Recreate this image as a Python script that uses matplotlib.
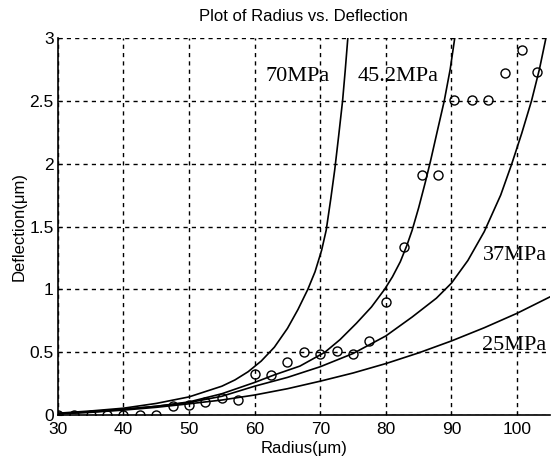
import numpy as np
import matplotlib
matplotlib.use("Agg")
import matplotlib.pyplot as plt

# measured points (radius in um, deflection in um)
meas_r = [30, 32.5, 35, 37.5, 40, 42.5, 45, 47.5, 50, 52.5, 55, 57.5, 60, 62.5, 65,
          67.5, 70, 72.5, 75, 77.5, 80, 82.7, 85.5, 87.9, 90.4, 93.1, 95.6, 98.2, 100.7, 103.1]
meas_d = [0, 0, 0, 0, 0, 0, 0, 0.07, 0.08, 0.105, 0.14, 0.12, 0.33, 0.32, 0.42,
          0.50, 0.49, 0.51, 0.49, 0.59, 0.90, 1.34, 1.91, 1.91, 2.51, 2.51, 2.51, 2.72, 2.90, 2.73]

# model curves
r70 = [30, 35, 40, 45, 50, 55, 57, 59, 61, 63, 65, 66.6, 68.1, 69.2, 70.2, 70.9, 71.6, 72.2,
       72.8, 73.4, 73.8, 74.2]
d70 = [0.015, 0.033, 0.055, 0.093, 0.145, 0.23, 0.28, 0.345, 0.43, 0.54, 0.69, 0.84, 1.0, 1.14,
       1.31, 1.47, 1.72, 1.95, 2.22, 2.5, 2.74, 3.0]

r45 = [30, 35, 40, 45, 50, 55, 60, 63, 66.9, 70.7, 73, 75.5, 77.8, 79.8, 81, 82.2, 83.2, 84.0,
       85, 86, 86.8, 87.8, 88.9, 89.8, 90.5]
d45 = [0.012, 0.025, 0.045, 0.07, 0.105, 0.17, 0.26, 0.32, 0.39, 0.5, 0.6, 0.73, 0.86, 1.0, 1.1,
       1.22, 1.35, 1.47, 1.65, 1.85, 2.02, 2.25, 2.5, 2.75, 3.0]

r37 = [30, 35, 40, 45, 50, 55, 60, 65, 70, 75, 80, 84, 87.7, 90, 92.5, 95, 97.5, 99.2, 100.7,
       102.2, 103.4, 104.4]
d37 = [0.012, 0.028, 0.047, 0.07, 0.1, 0.15, 0.23, 0.3, 0.385, 0.49, 0.63, 0.78, 0.93, 1.05,
       1.23, 1.46, 1.75, 2.0, 2.24, 2.5, 2.75, 3.0]

r25 = [30, 35, 40, 45, 50, 55, 60, 65, 70, 75, 80, 85, 90, 95, 100, 105]
d25 = [0.01, 0.022, 0.04, 0.062, 0.09, 0.12, 0.16, 0.21, 0.27, 0.335, 0.41, 0.495, 0.59, 0.695, 0.81, 0.94]

labels = ["70MPa", "45.2MPa", "37MPa", "25MPa"]
label_xy = [(66.6, 2.69), (81.9, 2.69), (99.7, 1.27), (99.6, 0.55)]

xticks = [30, 40, 50, 60, 70, 80, 90, 100]
yticks = [0, 0.5, 1, 1.5, 2, 2.5, 3]
ytick_labels = ["0", "0.5", "1", "1.5", "2", "2.5", "3"]

plt.rcParams['font.family'] = ['Liberation Sans', 'DejaVu Sans']

fig = plt.figure(figsize=(5.51, 4.68), dpi=100)
ax = fig.add_axes([0.105, 0.113, 0.893, 0.806])

for r, d in [(r70, d70), (r45, d45), (r37, d37), (r25, d25)]:
    ax.plot(r, d, color='black', lw=1.2)
ax.plot(meas_r, meas_d, 'o', mfc='none', mec='black', ms=6.5, mew=1.0)

for lab, (x, y) in zip(labels, label_xy):
    ax.text(x, y, lab, family=['Liberation Serif', 'DejaVu Serif'], fontsize=16,
            ha='center', va='center', color='black')

ax.set_xlim(30, 105)
ax.set_ylim(0, 3)
ax.set_xticks(xticks)
ax.set_yticks(yticks)
ax.set_yticklabels(ytick_labels)
ax.tick_params(direction='in', length=3, labelsize=12.5)
ax.tick_params(axis='x', pad=5)
ax.tick_params(axis='y', pad=3)
ax.grid(True, color='black', linestyle=(0, (3, 3)), linewidth=1.0)
ax.spines['top'].set_visible(False)
ax.spines['right'].set_visible(False)
ax.spines['left'].set_linewidth(1.2)
ax.spines['bottom'].set_linewidth(1.2)

ax.set_title("Plot of Radius vs. Deflection", fontsize=12, pad=12)
ax.set_xlabel("Radius(μm)", fontsize=12, labelpad=3)
ax.set_ylabel("Deflection(μm)", fontsize=12, labelpad=2)

fig.savefig("out.png", dpi=100)
